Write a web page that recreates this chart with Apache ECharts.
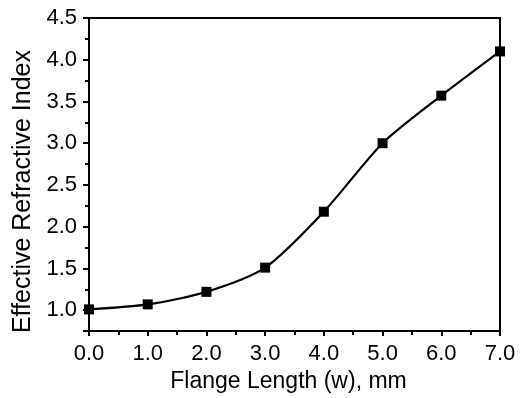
<!DOCTYPE html>
<html>
<head>
<meta charset="utf-8">
<script src="https://cdn.jsdelivr.net/npm/echarts@6/dist/echarts.min.js"></script>
<style>html,body{margin:0;padding:0;background:#fff;}#c{width:524px;height:398px;}</style>
</head>
<body>
<div id="c"></div>
<script>
const flangeLength = [0, 1, 2, 3, 4, 5, 6, 7];
const refractiveIndex = [1.01, 1.07, 1.22, 1.51, 2.18, 3.00, 3.57, 4.10];
const xTitle = 'Flange Length (w), mm';
const yTitle = 'Effective Refractive Index';

const font = '"Liberation Sans", Arial, sans-serif';
const chart = echarts.init(document.getElementById('c'), null, {renderer: 'canvas'});
chart.setOption({
  animation: false,
  backgroundColor: '#fff',
  grid: {left: 89, right: 24, top: 18, bottom: 64, show: true, borderColor: '#000', borderWidth: 2, backgroundColor: 'transparent'},
  xAxis: {
    type: 'value', min: 0, max: 7, interval: 1,
    name: xTitle, nameLocation: 'middle', nameGap: 35,
    nameTextStyle: {fontFamily: font, fontSize: 23, color: '#000', padding: [0, 12, 0, 0]},
    axisLine: {show: true, lineStyle: {color: '#000', width: 2}},
    axisTick: {show: true, inside: false, length: 5, lineStyle: {color: '#000', width: 2}},
    minorTick: {show: true, splitNumber: 2, length: 4, lineStyle: {color: '#000', width: 2}},
    splitLine: {show: false},
    axisLabel: {fontFamily: font, fontSize: 22, color: '#000', margin: 12, formatter: v => v.toFixed(1)}
  },
  yAxis: [
    {
      type: 'value', min: 0.75, max: 4.5, interval: 0.25,
      axisLine: {show: true, lineStyle: {color: '#000', width: 2}},
      axisTick: {show: true, inside: false, length: 4, lineStyle: {color: '#000', width: 2}},
      splitLine: {show: false},
      axisLabel: {show: false}
    },
    {
      type: 'value', min: -4.5, max: -0.75, interval: 0.5, inverse: true, position: 'left', offset: 0,
      name: yTitle, nameLocation: 'middle', nameGap: 52, nameRotate: 90,
      nameTextStyle: {fontFamily: font, fontSize: 25, color: '#000', padding: [0, 34, 0, 0]},
      axisLine: {show: false},
      axisTick: {show: true, inside: false, length: 6, lineStyle: {color: '#000', width: 2}},
      splitLine: {show: false},
      axisLabel: {fontFamily: font, fontSize: 22, color: '#000', margin: 12,
        formatter: v => (Math.abs(v * 2 - Math.round(v * 2)) < 1e-6) ? (-v).toFixed(1) : ''}
    }
  ],
  series: [{
    type: 'line',
    yAxisIndex: 0,
    data: flangeLength.map((x, i) => [x, refractiveIndex[i]]),
    smooth: 0.25,
    symbol: 'rect', symbolSize: 10,
    itemStyle: {color: '#000'},
    lineStyle: {color: '#000', width: 2.2},
    clip: true
  }]
});
</script>
</body>
</html>
